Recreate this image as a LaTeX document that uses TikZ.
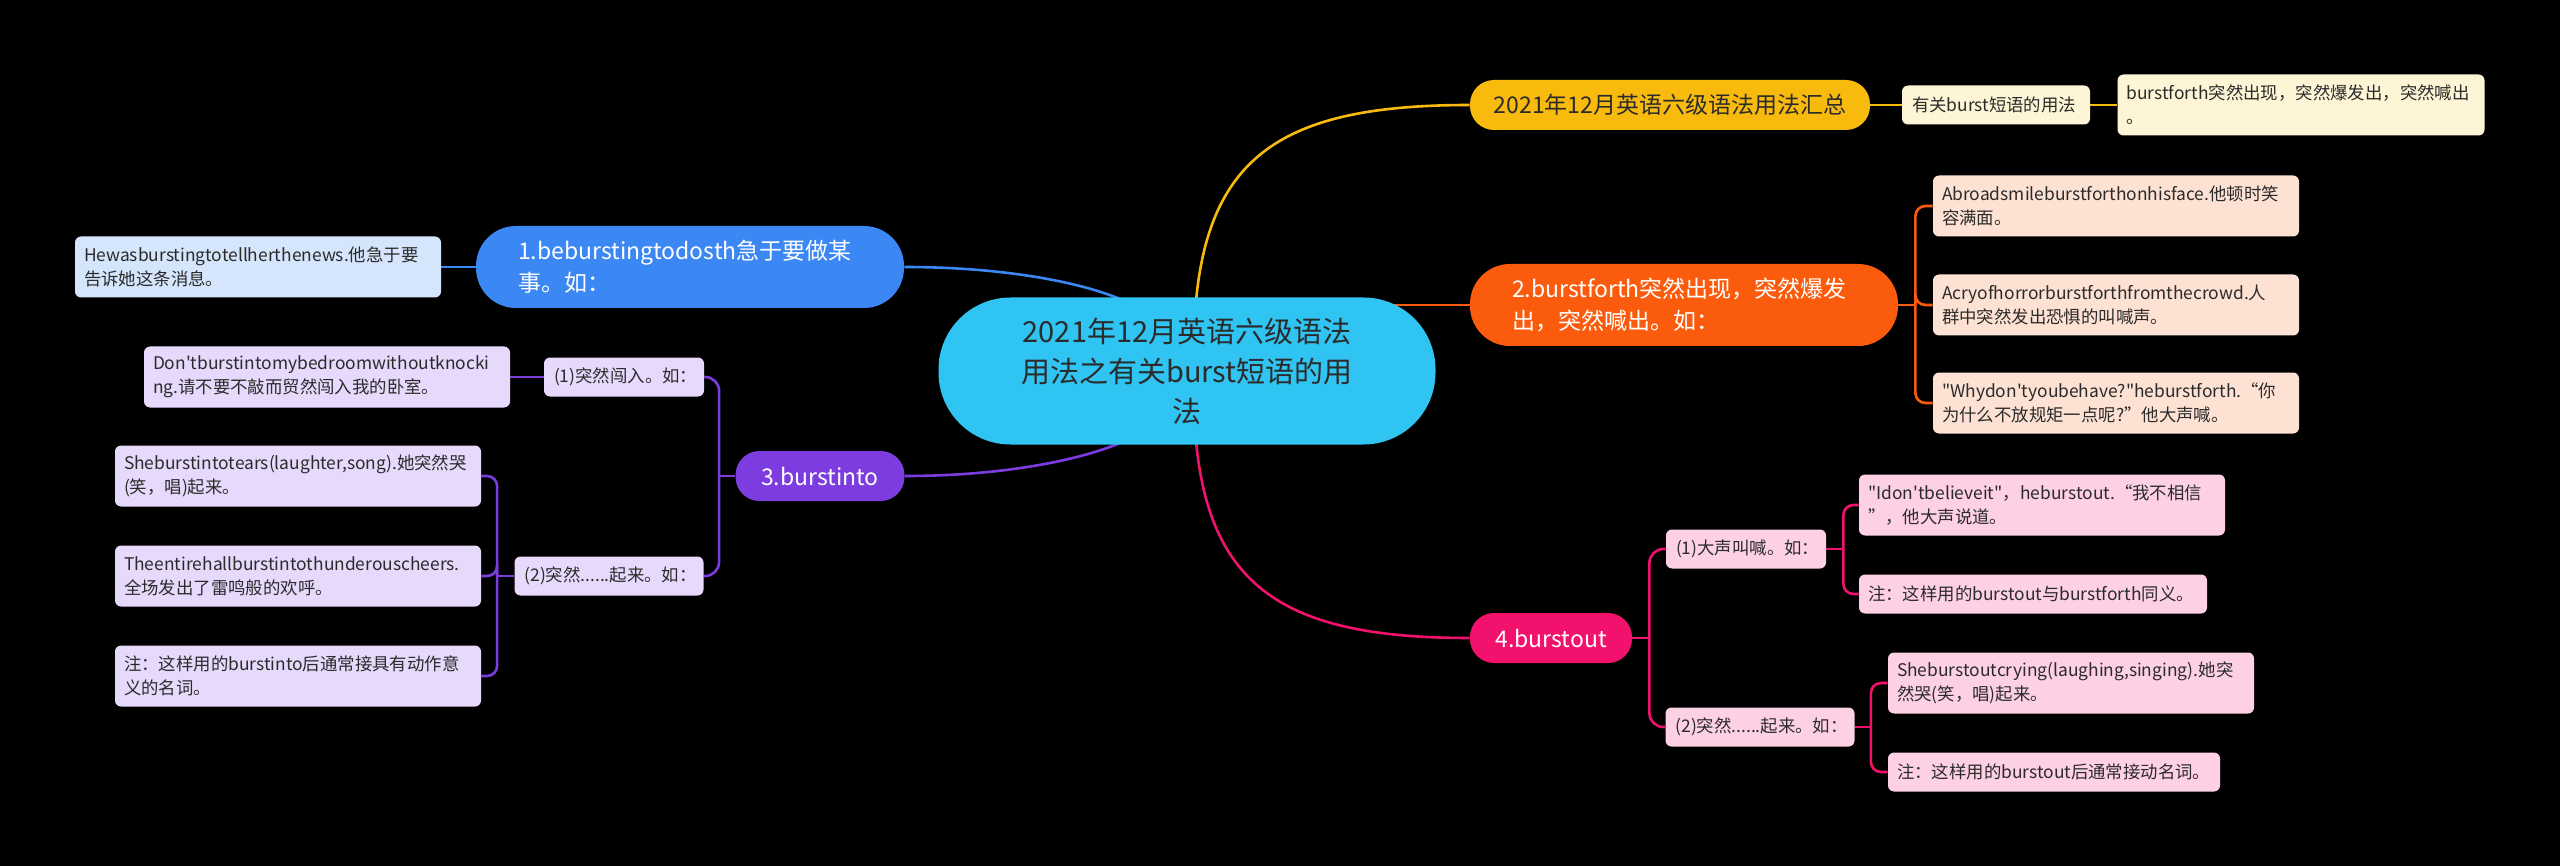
\documentclass[tikz,border=0pt]{standalone}
\usepackage{fontspec}
\setmainfont{Noto Sans CJK SC}[Ligatures=TeXOff]
\usepackage{tikz}
\usetikzlibrary{calc}
\usepackage{xcolor}
\definecolor{rootc}{HTML}{30C4F2}
\definecolor{inkc}{HTML}{2B2B2B}
\definecolor{yel}{HTML}{F9BA0E}
\definecolor{yell}{HTML}{FEF4D6}
\definecolor{org}{HTML}{FB5B0C}
\definecolor{orgl}{HTML}{FDE2D4}
\definecolor{pnk}{HTML}{F2116C}
\definecolor{pnkl}{HTML}{FDD0E3}
\definecolor{blu}{HTML}{3B87F3}
\definecolor{blul}{HTML}{D4E5FC}
\definecolor{pur}{HTML}{7C3CE0}
\definecolor{purl}{HTML}{E6D9FB}
\pgfdeclarelayer{bg}
\pgfdeclarelayer{links}
\pgfsetlayers{bg,links,main}

\begin{document}
\begin{tikzpicture}[x=0.5pt, y=-0.5pt,
  root/.style={fill=rootc, text=inkc, rounded corners=36pt,
               minimum width=248.5pt, minimum height=73.5pt,
               align=center, font=\fontsize{14.5}{20}\selectfont},
  topic/.style={text=white, rounded corners=20pt, minimum height=41pt,
                text width=172pt, inner xsep=21pt, align=left,
                font=\fontsize{11.5}{16}\selectfont},
  pill/.style={rounded corners=12pt, minimum height=25pt, align=center,
               font=\fontsize{11.5}{16}\selectfont},
  sub/.style={text=inkc, rounded corners=3pt, minimum height=19.5pt,
              inner xsep=5pt, inner ysep=2pt, align=left, text width=#1,
              font=\fontsize{8.7}{12}\selectfont},
  leaf/.style={sub=#1, inner xsep=4.5pt, minimum height=30.5pt},
  leaf/.default=174pt,
  lk/.style={line width=1.3pt},
]
  \begin{pgfonlayer}{bg}
    \fill[black] (0,0) rectangle (2560,866);
  \end{pgfonlayer}
  \useasboundingbox (0,0) rectangle (2560,866);

  % centre
  \node[root] (root) at (1187,371) {2021年12月英语六级语法\\用法之有关burst短语的用\\法};

  % right side
  \node[pill, fill=yel, text=inkc, minimum width=200pt] (total) at (1670,105) {2021年12月英语六级语法用法汇总};
  \node[sub=84pt, fill=yell] (usage) at (1996,105) {有关burst短语的用法};
  \node[leaf=174.5pt, fill=yell] (usagea) at (2301,105) {burstforth突然出现，突然爆发出，突然喊出\\。};

  \node[topic, fill=org] (forth) at (1684,305) {2.burstforth突然出现，突然爆发\\出，突然喊出。如：};
  \node[leaf, fill=orgl] (fortha) at (2116,206) {Abroadsmileburstforthonhisface.他顿时笑\\容满面。};
  \node[leaf, fill=orgl] (forthb) at (2116,305) {Acryofhorrorburstforthfromthecrowd.人\\群中突然发出恐惧的叫喊声。};
  \node[leaf, fill=orgl] (forthc) at (2116,403) {"Whydon'tyoubehave?"heburstforth.“你\\为什么不放规矩一点呢?”他大声喊。};

  \node[pill, fill=pnk, text=white, minimum width=81pt] (out) at (1551,638) {4.burstout};
  \node[sub=70pt, fill=pnkl] (shout) at (1746,549) {(1)大声叫喊。如：};
  \node[leaf, fill=pnkl] (shouta) at (2042,505) {"Idon'tbelieveit"，heburstout.“我不相信\\”，他大声说道。};
  \node[leaf=165pt, fill=pnkl, minimum height=19.5pt] (shoutb) at (2033,594) {注：这样用的burstout与burstforth同义。};
  \node[sub=84.5pt, fill=pnkl] (cry) at (1760,727) {(2)突然......起来。如：};
  \node[leaf, fill=pnkl] (crya) at (2071,683) {Sheburstoutcrying(laughing,singing).她突\\然哭(笑，唱)起来。};
  \node[leaf=157pt, fill=pnkl, minimum height=19.5pt] (cryb) at (2054,772) {注：这样用的burstout后通常接动名词。};

  % left side
  \node[topic, fill=blu] (eager) at (690,267) {1.beburstingtodosth急于要做某\\事。如：};
  \node[leaf, fill=blul] (eagera) at (258,267) {Hewasburstingtotellherthenews.他急于要\\告诉她这条消息。};

  \node[pill, fill=pur, text=white, minimum width=84.5pt] (into) at (820,476) {3.burstinto};
  \node[sub=70pt, fill=purl] (rush) at (624,377) {(1)突然闯入。如：};
  \node[leaf, fill=purl] (rusha) at (327,377) {Don'tburstintomybedroomwithoutknocki\\ng.请不要不敲而贸然闯入我的卧室。};
  \node[sub=84.5pt, fill=purl] (start) at (609,576) {(2)突然......起来。如：};
  \node[leaf, fill=purl] (starta) at (298,476) {Sheburstintotears(laughter,song).她突然哭\\(笑，唱)起来。};
  \node[leaf, fill=purl] (startb) at (298,576) {Theentirehallburstintothunderouscheers.\\全场发出了雷鸣般的欢呼。};
  \node[leaf, fill=purl] (startc) at (298,676) {注：这样用的burstinto后通常接具有动作意\\义的名词。};

  \begin{pgfonlayer}{links}
    % branches from the centre
    \draw[lk, yel] ($(root.north)+(9,4)$) .. controls +(14,-150) and +(-180,0) .. (total.west);
    \draw[lk, org] (root.center |- forth.west) -- (forth.west);
    \draw[lk, pnk] ($(root.south)+(9,-4)$) .. controls +(14,150) and +(-180,0) .. (out.west);
    \draw[lk, blu] (eager.east) .. controls +(95,0) and +(-45,-20) .. ($(root.north)+(-62,4)$);
    \draw[lk, pur] (into.east) .. controls +(95,0) and +(-45,20) .. ($(root.south)+(-62,-4)$);

    % sub branches
    \draw[lk, yel] (total) -- (usage) -- (usagea);
    \draw[lk, org] (forth.east) -- ++(17,0) coordinate (forthj);
    \foreach \c in {fortha,forthb,forthc}
      \draw[lk, org, rounded corners=5pt] (forthj) |- (\c.west);
    \draw[lk, pnk] (out.east) -- ++(17,0) coordinate (outj);
    \foreach \c in {shout,cry}
      \draw[lk, pnk, rounded corners=7pt] (outj) |- (\c.west);
    \draw[lk, pnk] (shout.east) -- ++(17,0) coordinate (shoutj);
    \foreach \c in {shouta,shoutb}
      \draw[lk, pnk, rounded corners=5pt] (shoutj) |- (\c.west);
    \draw[lk, pnk] (cry.east) -- ++(16,0) coordinate (cryj);
    \foreach \c in {crya,cryb}
      \draw[lk, pnk, rounded corners=5pt] (cryj) |- (\c.west);

    \draw[lk, blu] (eager) -- (eagera);
    \draw[lk, pur] (into.west) -- ++(-16,0) coordinate (intoj);
    \foreach \c in {rush,start}
      \draw[lk, pur, rounded corners=7pt] (intoj) |- (\c.east);
    \draw[lk, pur] (rush) -- (rusha);
    \draw[lk, pur] (start.west) -- ++(-17,0) coordinate (startj);
    \foreach \c in {starta,startb,startc}
      \draw[lk, pur, rounded corners=5pt] (startj) |- (\c.east);
  \end{pgfonlayer}
\end{tikzpicture}
\end{document}
